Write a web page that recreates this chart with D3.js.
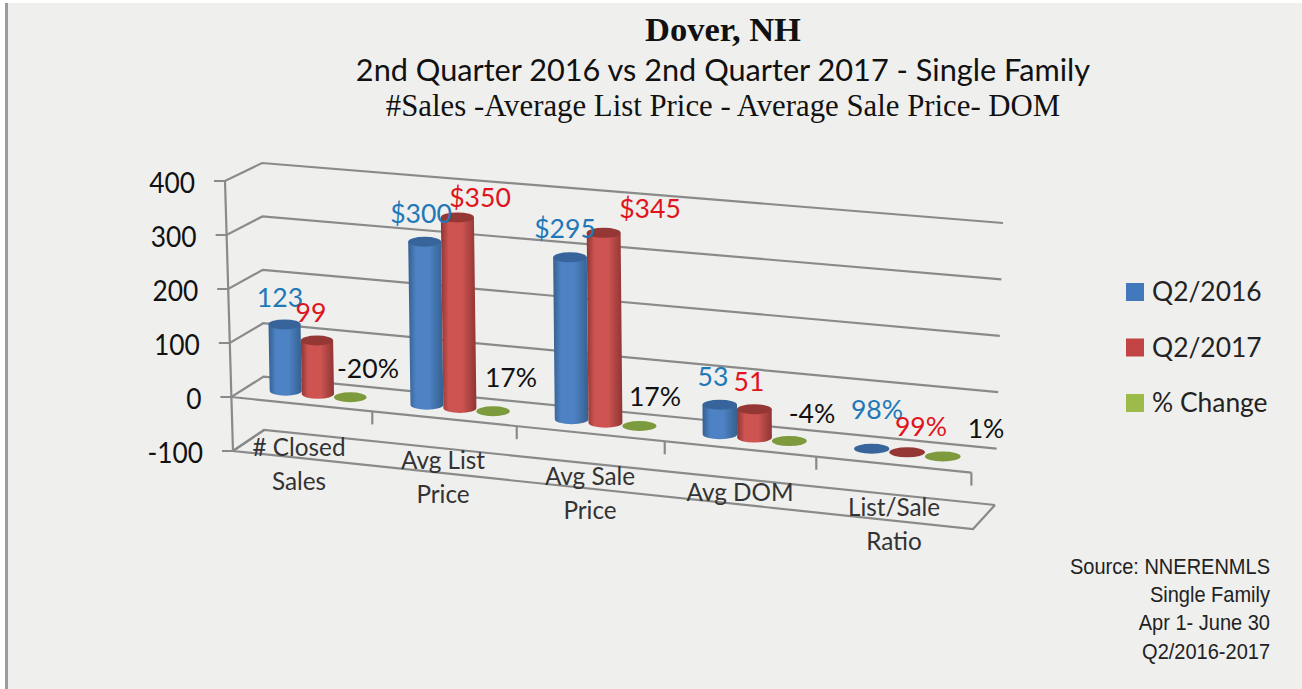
<!DOCTYPE html>
<html><head><meta charset="utf-8">
<script src="https://cdn.jsdelivr.net/npm/d3@7/dist/d3.min.js"></script>
<style>html,body{margin:0;padding:0;background:#fff;overflow:hidden}svg{display:block}</style>
</head><body><svg id="c" width="1302" height="689"></svg>
<script>
const categories = [["# Closed","Sales"],["Avg List","Price"],["Avg Sale","Price"],["Avg DOM"],["List/Sale","Ratio"]];
const seriesNames = ["Q2/2016","Q2/2017","% Change"];
const q2016 = [123,300,295,53,0.98];
const q2017 = [99,350,345,51,0.99];
const pctChange = [-0.20,0.17,0.17,-0.04,0.01];
const q2016Labels = ["123","$300","$295","53","98%"];
const q2017Labels = ["99","$350","$345","51","99%"];
const pctLabels = ["-20%","17%","17%","-4%","1%"];
const yTicks = [-100,0,100,200,300,400];
const sourceLines = ["Source: NNERENMLS","Single Family","Apr 1- June 30","Q2/2016-2017"];

// label centres, laid out by hand in the original
const labelPos = [
 [[280,297],[421,213],[565,228],[713,376],[877,409]],
 [[311,312],[480,197],[650,208],[749,381],[921,426]],
 [[368,368],[511,377],[655,396],[812,413],[986,428]]];
const catLabelPos = [[299,446],[443,459],[590,475],[740,491],[894,506]];

const colors = {
 blue:{edge:"#35608f",mid:"#4d82c4",top:"#37659b"},
 red:{edge:"#8f3533",mid:"#cd5451",top:"#953735"},
 green:{edge:"#6f8a35",mid:"#7e9c3e",top:"#7d9a3c"}};
const seriesColors=[colors.blue,colors.red,colors.green];
const legendFill=["#4279bd","#c24343","#9cbb4b"];

const svg=d3.select("#c");
const defs=svg.append("defs");
seriesColors.forEach((c,i)=>{
  const g=defs.append("linearGradient").attr("id","g"+i);
  [[0,c.edge],[.22,c.mid],[.6,c.mid],[1,c.edge]].forEach(s=>g.append("stop").attr("offset",s[0]).attr("stop-color",s[1]));
});
svg.append("rect").attr("x",0).attr("y",3).attr("width",1302).attr("height",686).attr("fill","#efefee");
svg.append("rect").attr("x",0).attr("y",0).attr("width",5).attr("height",689).attr("fill","#fff");
svg.append("rect").attr("x",5).attr("y",3).attr("width",3).attr("height",686).attr("fill","#9c9c9c");

// 3D box: eight corners of the plot cube, trilinear mapping
const C={fl:[[233,451],[225,181]],bl:[[264,430],[262,163]],fr:[[973,529],[965,247]],br:[[995,505],[1003,223]]};
const vS=d3.scaleLinear().domain([-100,400]).range([0,1]);
const warp=t=>t*(0.94+0.06*t);
const lerp=(a,b,k)=>a+(b-a)*k;
function P(t,d,v){
  const f=warp(t),h=vS(v);
  return [0,1].map(i=>{
    const front=lerp(lerp(C.fl[0][i],C.fl[1][i],h),lerp(C.fr[0][i],C.fr[1][i],h),f);
    const back=lerp(lerp(C.bl[0][i],C.bl[1][i],h),lerp(C.br[0][i],C.br[1][i],h),f);
    return lerp(front,back,d);
  });
}
const band=d3.scaleBand().domain(d3.range(categories.length)).range([0,1]);
const inner=d3.scaleBand().domain(d3.range(3)).range([0.032,0.17]);
const line=d3.line();
const grid="#8a8a8a";
const gw=svg.append("g").attr("fill","none").attr("stroke",grid).attr("stroke-width",2.2);
yTicks.forEach(v=>{
  gw.append("path").attr("d",line([[P(0,0,v)[0]-11,P(0,0,v)[1]],P(0,0,v),P(0,1,v),P(1,1,v)]));
});
gw.append("path").attr("d",line([P(0,0,400),P(0,0,-100)]));
gw.append("path").attr("d",line([P(0,1,-100),P(0,0,-100),P(1,0,-100),P(1,1,-100)]));
gw.append("path").attr("d",line([P(0,0,0),P(1,0,0)]));
d3.range(1,6).forEach(i=>{const p=P(i/5,0,0);gw.append("path").attr("d",line([p,[p[0],p[1]+13]]));});

const font="Lato, sans-serif";
const text=(x,y,s,o={})=>svg.append("text").attr("transform",`translate(${x},${y}) scale(${o.sx||1},1)`)
  .attr("dominant-baseline","central")
  .attr("text-anchor",o.anchor||"middle").attr("font-family",o.font||font).attr("font-size",o.size||26)
  .attr("font-weight",o.weight||"normal").attr("fill",o.fill||"#111").text(s);

yTicks.forEach(v=>{const p=P(0,0,v);text(p[0]-30,p[1]+1,v,{anchor:"end",size:28,sx:.94});});

categories.forEach((ls,i)=>ls.forEach((l,j)=>text(catLabelPos[i][0],catLabelPos[i][1]+j*34,l,{size:24.3,fill:"#333"})));

// cylinders
const depth=0.5, ry=5;
[q2016,q2017,pctChange].forEach((vals,s)=>{
  const g=svg.append("g");
  vals.forEach((v,i)=>{
    const t=band(i)+inner(s)+inner.bandwidth()/2;
    const base=P(t,depth,0), top=P(t,depth,v);
    const l=P(t-inner.bandwidth()/2,depth,0), r=P(t+inner.bandwidth()/2,depth,0);
    const rx=(r[0]-l[0])/2;
    const c=seriesColors[s];
    if(Math.abs(v)>5){
      g.append("path").attr("fill",`url(#g${s})`)
       .attr("d",`M${top[0]-rx},${top[1]}L${base[0]-rx},${base[1]}A${rx},${ry} 0 0 0 ${base[0]+rx},${base[1]}L${top[0]+rx},${top[1]}Z`);
    }
    g.append("ellipse").attr("cx",top[0]).attr("cy",top[1]).attr("rx",rx).attr("ry",ry).attr("fill",c.top);
  });
});

[q2016Labels,q2017Labels,pctLabels].forEach((ls,s)=>ls.forEach((l,i)=>
  text(labelPos[s][i][0],labelPos[s][i][1],l,{size:26.6,fill:["#1f78b8","#e0141c","#111"][s]})));

// titles
text(723,29,"Dover, NH",{font:"'Liberation Serif',serif",size:34.5,weight:"bold"});
text(723,69,"2nd Quarter 2016 vs 2nd Quarter 2017 - Single Family",{size:30.7});
text(723,106,"#Sales -Average List Price - Average Sale Price- DOM",{font:"'Liberation Serif',serif",size:30.8});

// legend
seriesNames.forEach((n,i)=>{
  const y=292+i*55.5;
  svg.append("rect").attr("x",1126).attr("y",y-9).attr("width",18).attr("height",18).attr("fill",legendFill[i]);
  text(1152,y-1,n,{anchor:"start",size:26.4,fill:"#222"});
});
sourceLines.forEach((l,i)=>text(1270,566+i*28.3,l,{anchor:"end",size:22,sx:.91,font:"'Liberation Sans',sans-serif",fill:"#222"}));
</script></body></html>
